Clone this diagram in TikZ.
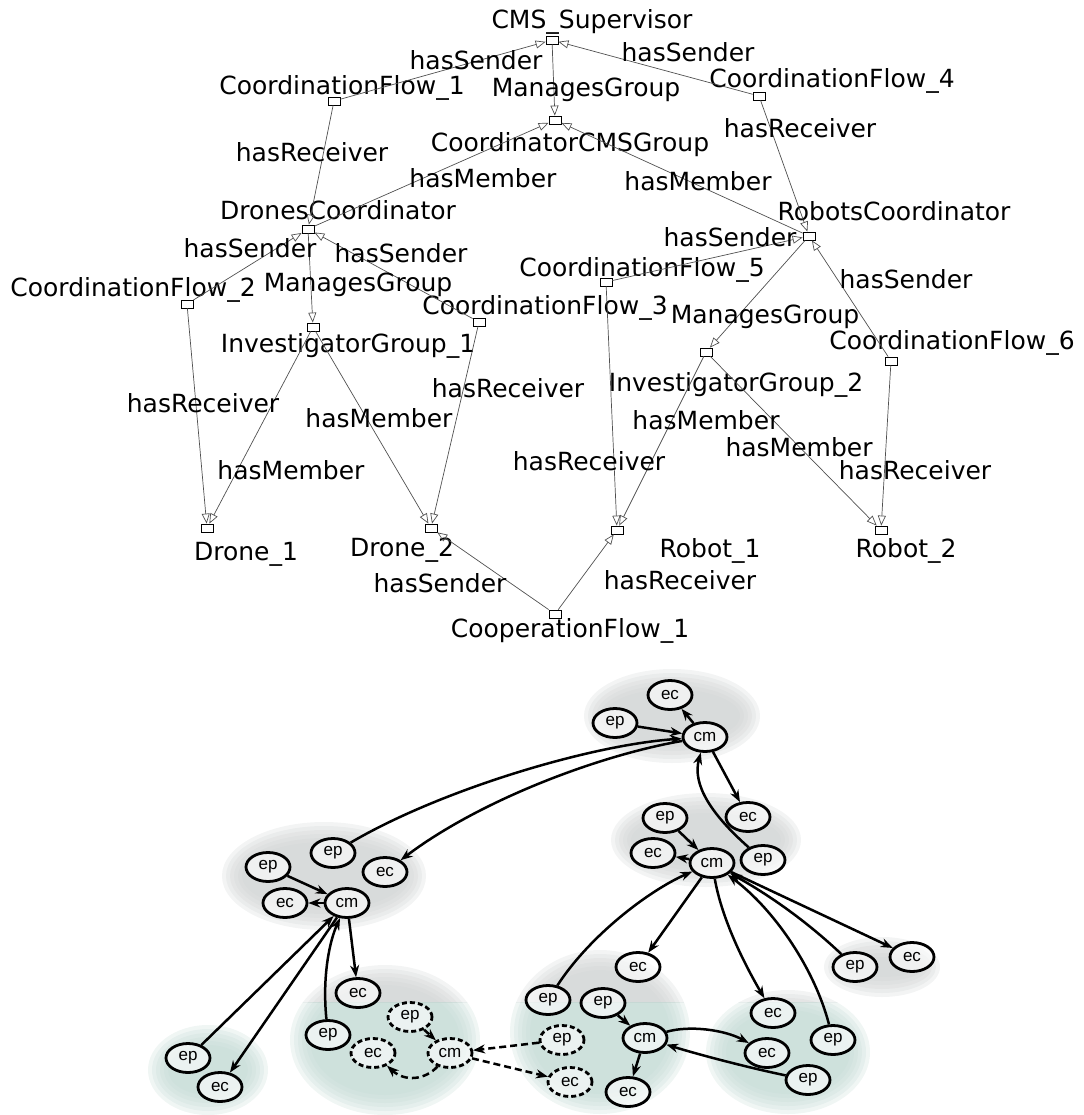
\documentclass[tikz,border=0pt]{standalone}
\usepackage{fontspec}
\setmainfont{DejaVu Sans}
\newfontfamily\figfont{Liberation Sans}
\usepackage{tikz}
\usetikzlibrary{arrows.meta,shapes.geometric}

\definecolor{edgegray}{RGB}{80,80,80}
\definecolor{blobgray}{RGB}{208,211,211}
\definecolor{blobgreen}{RGB}{196,218,213}

% soft shaded patch behind a group
\newcommand{\blob}[5]{%
  \foreach \k in {0,...,5}
    \fill[#5, opacity=0.25] (#1,#2) ellipse ({#3-4*\k} and {#4-4*\k});}
\newcommand{\patches}[1]{%
  \blob{672}{716}{88}{47}{#1}
  \blob{706}{840}{95}{47}{#1}
  \blob{324}{876}{102}{54}{#1}
  \blob{882}{967}{58}{30}{#1}
  \blob{208}{1070}{60}{45}{#1}
  \blob{385}{1040}{95}{75}{#1}
  \blob{600}{1032}{90}{82}{#1}
  \blob{788}{1052}{82}{62}{#1}}

\begin{document}
\begin{tikzpicture}[x=1pt, y=-1pt,
    ind/.style={draw, minimum width=12pt, minimum height=8pt, inner sep=0pt, line width=0.8pt},
    lbl/.style={anchor=base, yshift=-9pt, inner sep=0pt, font=\fontsize{25}{25}\selectfont},
    rel/.style={draw=edgegray, line width=0.7pt, -{Triangle[open, length=10pt, width=8pt]}},
    obj/.style={draw, ellipse, fill=white, fill opacity=0.6, text opacity=1, line width=2.8pt,
                minimum width=44pt, minimum height=29pt, inner sep=0pt,
                font=\figfont\fontsize{17}{17}\selectfont},
    ghost/.style={obj, dash pattern=on 5pt off 3pt},
    link/.style={line width=2.5pt, -{Stealth[length=12pt, width=9pt]}},
    ghostlink/.style={link, dash pattern=on 7pt off 4pt}
  ]
  \useasboundingbox (0,0) rectangle (1083,1115);

  % ---- ontology graph ----
  \node[ind] (sup)  at (552,40)  {};
  \node[ind] (cf1)  at (334,101) {};
  \node[ind] (ccg)  at (555,120) {};
  \node[ind] (cf4)  at (759,96)  {};
  \node[ind] (dc)   at (308,229) {};
  \node[ind] (rc)   at (809,236) {};
  \node[ind] (cf2)  at (187,304) {};
  \node[ind] (cf5)  at (606,282) {};
  \node[ind] (cf3)  at (479,322) {};
  \node[ind] (ig1)  at (313,327) {};
  \node[ind] (ig2)  at (706,352) {};
  \node[ind] (cf6)  at (891,361) {};
  \node[ind] (d1)   at (207,528) {};
  \node[ind] (d2)   at (431,528) {};
  \node[ind] (r1)   at (617,530) {};
  \node[ind] (r2)   at (881,530) {};
  \node[ind] (coop) at (555,614) {};

  \node[lbl] (sup-n)  at (592,20)  {CMS\_Supervisor};
  \node[lbl] (cf1-n)  at (342,86)  {CoordinationFlow\_1};
  \node[lbl] (ccg-n)  at (570,143) {CoordinatorCMSGroup};
  \node[lbl] (cf4-n)  at (832,79)  {CoordinationFlow\_4};
  \node[lbl] (dc-n)   at (338,210) {DronesCoordinator};
  \node[lbl] (rc-n)   at (894,212) {RobotsCoordinator};
  \node[lbl] (cf2-n)  at (133,287) {CoordinationFlow\_2};
  \node[lbl] (cf5-n)  at (642,267) {CoordinationFlow\_5};
  \node[lbl] (cf3-n)  at (545,305) {CoordinationFlow\_3};
  \node[lbl] (ig1-n)  at (348,343) {InvestigatorGroup\_1};
  \node[lbl] (ig2-n)  at (736,382) {InvestigatorGroup\_2};
  \node[lbl] (cf6-n)  at (952,340) {CoordinationFlow\_6};
  \node[lbl] (d1-n)   at (246,551) {Drone\_1};
  \node[lbl] (d2-n)   at (402,547) {Drone\_2};
  \node[lbl] (r1-n)   at (710,548) {Robot\_1};
  \node[lbl] (r2-n)   at (906,548) {Robot\_2};
  \node[lbl] (coop-n) at (570,628) {CooperationFlow\_1};

  \foreach \s/\t in {cf1/sup, sup/ccg, cf4/sup, cf1/dc, dc/ccg, rc/ccg, cf4/rc,
                     cf2/dc, cf3/dc, dc/ig1, cf5/rc, cf6/rc, rc/ig2, cf2/d1, ig1/d1,
                     ig1/d2, cf3/d2, coop/d2, cf5/r1, ig2/r1, coop/r1, ig2/r2, cf6/r2}
    \draw[rel] (\s) -- (\t);

  \node[lbl] (l-cf1-sup)  at (476,61)  {hasSender};
  \node[lbl] (l-sup-ccg)  at (586,88)  {ManagesGroup};
  \node[lbl] (l-cf4-sup)  at (688,53)  {hasSender};
  \node[lbl] (l-cf4-rc)   at (800,129) {hasReceiver};
  \node[lbl] (l-cf1-dc)   at (312,153) {hasReceiver};
  \node[lbl] (l-dc-ccg)   at (483,179) {hasMember};
  \node[lbl] (l-rc-ccg)   at (698,182) {hasMember};
  \node[lbl] (l-cf5-rc)   at (730,237) {hasSender};
  \node[lbl] (l-cf2-dc)   at (250,248) {hasSender};
  \node[lbl] (l-cf3-dc)   at (401,253) {hasSender};
  \node[lbl] (l-dc-ig1)   at (358,282) {ManagesGroup};
  \node[lbl] (l-cf6-rc)   at (906,279) {hasSender};
  \node[lbl] (l-rc-ig2)   at (765,314) {ManagesGroup};
  \node[lbl] (l-cf2-d1)   at (203,403) {hasReceiver};
  \node[lbl] (l-cf3-d2)   at (508,388) {hasReceiver};
  \node[lbl] (l-ig1-d2)   at (379,418) {hasMember};
  \node[lbl] (l-ig2-r1)   at (706,420) {hasMember};
  \node[lbl] (l-ig2-r2)   at (799,447) {hasMember};
  \node[lbl] (l-cf5-r1)   at (589,461) {hasReceiver};
  \node[lbl] (l-ig1-d1)   at (291,470) {hasMember};
  \node[lbl] (l-cf6-r2)   at (915,470) {hasReceiver};
  \node[lbl] (l-coop-d2)  at (440,583) {hasSender};
  \node[lbl] (l-coop-r1)  at (680,580) {hasReceiver};

  % ---- group sketch ----
  \begin{scope}
    \clip (0,640) rectangle (1083,1002);
    \patches{blobgray}
  \end{scope}
  \begin{scope}
    \clip (0,1002) rectangle (1083,1115);
    \patches{blobgreen}
  \end{scope}

  \node[obj] (t-ec)  at (670,695)  {ec};
  \node[obj] (t-ep)  at (615,723)  {ep};
  \node[obj] (t-cm)  at (705,737)  {cm};
  \node[obj] (t-ec2) at (748,817)  {ec};
  \node[obj] (c-ep)  at (665,818)  {ep};
  \node[obj] (c-ec)  at (653,853)  {ec};
  \node[obj] (c-cm)  at (712,863)  {cm};
  \node[obj] (c-ep2) at (763,860)  {ep};
  \node[obj] (c-ec2) at (638,967)  {ec};
  \node[obj] (f-ep)  at (855,967)  {ep};
  \node[obj] (f-ec)  at (912,957)  {ec};
  \node[obj] (a-ep)  at (268,867)  {ep};
  \node[obj] (a-ep2) at (333,853)  {ep};
  \node[obj] (a-ec2) at (385,872)  {ec};
  \node[obj] (a-ec)  at (285,903)  {ec};
  \node[obj] (a-cm)  at (347,903)  {cm};
  \node[obj] (a-ec3) at (358,993)  {ec};
  \node[obj] (a-ep3) at (328,1035) {ep};
  \node[obj] (bl-ep) at (188,1058) {ep};
  \node[obj] (bl-ec) at (220,1087) {ec};
  \node[ghost] (g-ep)  at (410,1017) {ep};
  \node[ghost] (g-ec)  at (373,1053) {ec};
  \node[ghost] (g-cm)  at (450,1053) {cm};
  \node[ghost] (g-ep2) at (562,1040) {ep};
  \node[ghost] (g-ec2) at (570,1082) {ec};
  \node[obj] (d-ep)  at (548,1000) {ep};
  \node[obj] (d-ep2) at (603,1003) {ep};
  \node[obj] (d-cm)  at (645,1038) {cm};
  \node[obj] (d-ec)  at (628,1092) {ec};
  \node[obj] (e-ec)  at (773,1013) {ec};
  \node[obj] (e-ec2) at (767,1053) {ec};
  \node[obj] (e-ep)  at (833,1040) {ep};
  \node[obj] (e-ep2) at (808,1080) {ep};

  \draw[link] (t-ep) -- (t-cm);
  \draw[link] (t-cm) -- (t-ec);
  \draw[link] (t-cm) -- (t-ec2);
  \draw[link] (a-ep2) .. controls (440,790) and (590,745) .. (t-cm);
  \draw[link] (t-cm) .. controls (600,755) and (480,800) .. (a-ec2);
  \draw[link] (c-ep2) .. controls (712,815) and (692,785) .. (t-cm);

  \draw[link] (c-ep) -- (c-cm);
  \draw[link] (c-cm) -- (c-ec);
  \draw[link] (d-ep) .. controls (590,935) and (650,890) .. (c-cm);
  \draw[link] (c-cm) -- (c-ec2);
  \draw[link] (c-cm) .. controls (722,920) and (745,965) .. (e-ec);
  \draw[link] (e-ep) .. controls (815,970) and (775,910) .. (c-cm);
  \draw[link] (f-ep) .. controls (800,915) and (760,890) .. (c-cm);
  \draw[link] (c-cm) -- (f-ec);

  \draw[link] (d-ep2) -- (d-cm);
  \draw[link] (d-cm) -- (d-ec);
  \draw[link] (d-cm) .. controls (690,1025) and (725,1030) .. (e-ec2);
  \draw[link] (e-ep2) .. controls (750,1068) and (700,1055) .. (d-cm);

  \draw[link] (a-ep) -- (a-cm);
  \draw[link] (a-cm) -- (a-ec);
  \draw[link] (bl-ep) -- (a-cm);
  \draw[link] (a-cm) -- (bl-ec);
  \draw[link] (a-ep3) .. controls (322,975) and (330,940) .. (a-cm);
  \draw[link] (a-cm) -- (a-ec3);

  \draw[ghostlink] (g-ep) -- (g-cm);
  \draw[ghostlink] (g-cm) .. controls (425,1080) and (405,1082) .. (g-ec);
  \draw[ghostlink] (g-ep2) -- (g-cm);
  \draw[ghostlink] (g-cm) -- (g-ec2);
\end{tikzpicture}
\end{document}
